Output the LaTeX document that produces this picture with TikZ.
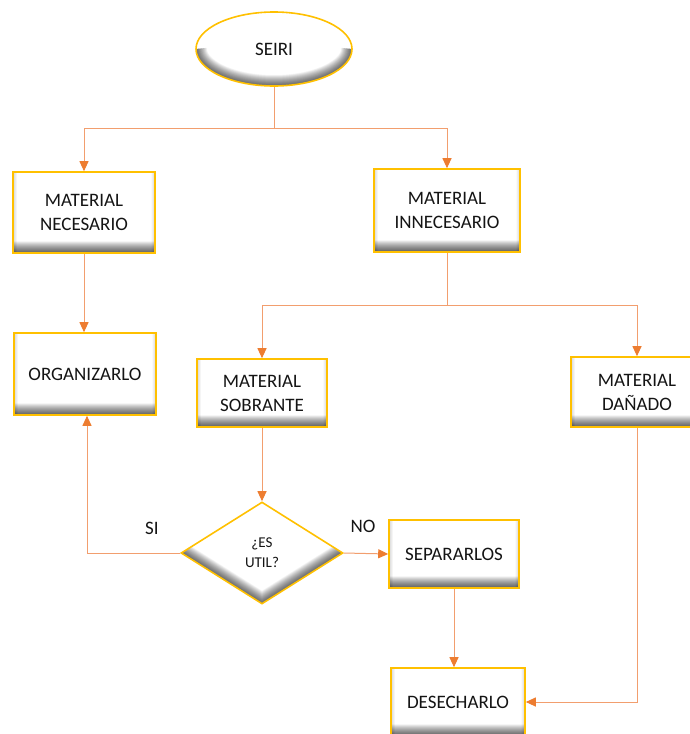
\documentclass[tikz,border=0pt]{standalone}
\usepackage{fontspec}
\setmainfont{Carlito}
\usetikzlibrary{arrows.meta,shapes.geometric}
\definecolor{gold}{RGB}{255,192,0}
\definecolor{linec}{RGB}{242,158,110}
\definecolor{tipc}{RGB}{237,125,49}
\definecolor{txt}{RGB}{20,20,20}
\begin{document}
\begin{tikzpicture}[x=1pt,y=-1pt,
  base/.style={draw=gold,line width=1.6pt,fill=white,text=txt,align=center,
    font=\fontsize{19}{24}\selectfont,inner sep=0pt},
  box/.style={base,rectangle,
    path picture={
      \foreach \w in {1,...,24}
        \draw[black,opacity=0.035,line width=\w pt]
          (path picture bounding box.south west) -- (path picture bounding box.south east);
      \foreach \w in {1,...,8}
        \draw[black,opacity=0.02,line width=\w pt]
          (path picture bounding box.south west) -- (path picture bounding box.north west)
          (path picture bounding box.south east) -- (path picture bounding box.north east);
    }},
  oval/.style={base,ellipse,minimum width=156pt,minimum height=74pt,
    path picture={
      \foreach \w in {1,...,22}
        \draw[black,opacity=0.035,line width=\w pt]
          (path picture bounding box.west)
          arc[start angle=180,end angle=360,x radius=78pt,y radius=37pt];
    }},
  decision/.style={base,diamond,minimum width=162pt,minimum height=102pt,
    font=\fontsize{15}{20}\selectfont,
    path picture={
      \foreach \w in {1,...,22}
        \draw[black,opacity=0.035,line width=\w pt]
          (path picture bounding box.west) -- (path picture bounding box.south)
          -- (path picture bounding box.east);
    }},
  conn/.style={draw=linec,line width=1pt},
  arr/.style={conn,-{Triangle[length=10pt,width=9pt,color=tipc]}},
  lbl/.style={text=txt,font=\fontsize{19}{24}\selectfont}
]
\useasboundingbox (0,0) rectangle (689,734);

% nodes
\node[oval] (seiri) at (274,49) {SEIRI};
\node[box,minimum width=142pt,minimum height=81pt] (nec) at (84,212.5) {MATERIAL\\NECESARIO};
\node[box,minimum width=146pt,minimum height=83pt] (inn) at (447,210.5) {MATERIAL\\INNECESARIO};
\node[box,minimum width=142pt,minimum height=82pt] (org) at (85,374) {ORGANIZARLO};
\node[box,minimum width=130pt,minimum height=68pt] (sob) at (262,393) {MATERIAL\\SOBRANTE};
\node[box,minimum width=132pt,minimum height=70pt] (dan) at (637,392) {MATERIAL\\DAÑADO};
\node[decision] (dia) at (262,553) {¿ES\\UTIL?};
\node[box,minimum width=130pt,minimum height=68pt] (sep) at (454,554) {SEPARARLOS};
\node[box,minimum width=134pt,minimum height=68pt] (des) at (458,702) {DESECHARLO};

\coordinate (j1) at (274,128);
\coordinate (j2) at (447,305);

% connectors
\draw[conn] (seiri.south) -- (j1);
\draw[arr] (j1) -| (nec.north);
\draw[arr] (j1) -| (inn.north);
\draw[arr] (nec.south) -- (nec.south |- org.north);
\draw[conn] (inn.south) -- (j2);
\draw[arr] (j2) -| (sob.north);
\draw[arr] (j2) -| (dan.north);
\draw[arr] (sob.south) -- (dia.north);
\draw[arr] (dia.west) -| ([xshift=2pt]org.south);
\draw[arr] (dia.east) -- (sep.west);
\draw[arr] (sep.south) -- (sep.south |- des.north);
\draw[arr] (dan.south) |- (des.east);

% branch labels
\node[lbl] (si) at (152,528) {SI};
\node[lbl] (no) at (363,526) {NO};
\end{tikzpicture}
\end{document}
